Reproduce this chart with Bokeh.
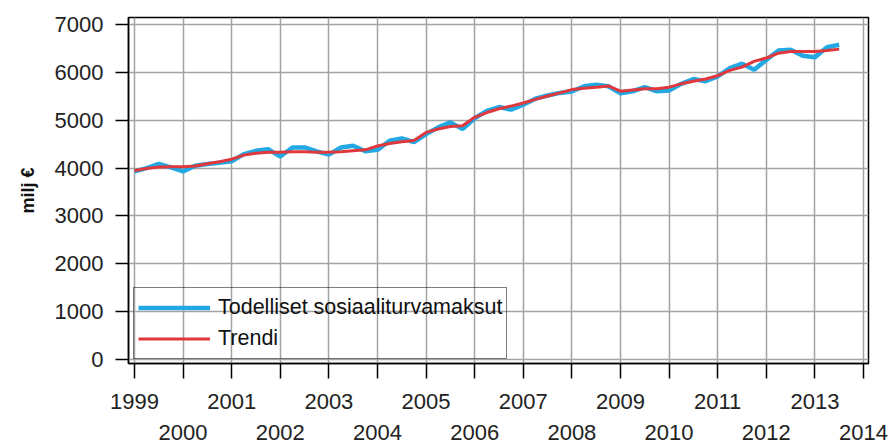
from bokeh.plotting import figure
from bokeh.models import FixedTicker, LinearAxis, Range1d, Legend, LegendItem
from bokeh.embed import file_html
from bokeh.resources import INLINE

# ---- data (quarterly, 1999Q1 .. 2013Q3) ----
periods = [f"{y}Q{q}" for y in range(1999, 2014) for q in range(1, 5)][:59]
actual = [3930, 4000, 4085, 4015, 3930, 4050, 4085, 4110, 4140, 4290, 4360, 4395,
          4240, 4430, 4430, 4350, 4280, 4430, 4465, 4350, 4380, 4570, 4620, 4540,
          4710, 4850, 4955, 4815, 5040, 5195, 5275, 5220, 5325, 5450, 5515, 5570,
          5600, 5710, 5740, 5710, 5560, 5605, 5690, 5605, 5620, 5760, 5860, 5815,
          5915, 6090, 6180, 6055, 6260, 6455, 6470, 6345, 6315, 6525, 6575]
trend = [3950, 3990, 4020, 4025, 4025, 4045, 4090, 4130, 4185, 4270, 4310, 4330,
         4330, 4340, 4340, 4330, 4330, 4340, 4360, 4380, 4460, 4515, 4550, 4575,
         4745, 4815, 4870, 4885, 5060, 5160, 5240, 5295, 5360, 5435, 5505, 5570,
         5640, 5670, 5690, 5715, 5605, 5630, 5655, 5655, 5690, 5760, 5815, 5860,
         5930, 6040, 6110, 6230, 6300, 6400, 6435, 6435, 6435, 6455, 6485]
year_ticks = list(range(1999, 2015))
y_ticks = list(range(0, 7001, 1000))
series_names = ["Todelliset sosiaaliturvamaksut", "Trendi"]
y_label = "milj €"

t = [int(p[:4]) + (int(p[-1]) - 1) / 4 for p in periods]

FONT = "Liberation Sans"

p = figure(width=892, height=446, output_backend="svg", toolbar_location=None,
           x_range=Range1d(1998.877, 2014.103), y_range=Range1d(-84, 7146),
           min_border_left=128, min_border_right=24, min_border_top=17,
           min_border_bottom=83)
p.background_fill_color = "white"
p.border_fill_color = "white"
p.outline_line_color = "black"
p.outline_line_width = 1.5

# grids
p.xgrid.ticker = FixedTicker(ticks=year_ticks)
p.ygrid.ticker = FixedTicker(ticks=y_ticks)
for g in (p.xgrid, p.ygrid):
    g.grid_line_color = "#a3a3a3"
    g.grid_line_width = 1.5

# y axis
ya = p.yaxis[0]
ya.ticker = FixedTicker(ticks=y_ticks)
ya.axis_label = y_label
ya.axis_label_text_font = FONT
ya.axis_label_text_font_style = "bold"
ya.axis_label_text_font_size = "18px"
ya.axis_label_text_color = "#111111"
ya.axis_label_standoff = 14
ya.major_label_text_font = FONT
ya.major_label_text_font_size = "22px"
ya.major_label_text_color = "#222222"
ya.major_label_standoff = 12
ya.major_tick_out = 13
ya.major_tick_in = 0
ya.minor_tick_out = 0
ya.minor_tick_in = 0
ya.major_tick_line_width = 1.5
ya.axis_line_width = 1.5
ya.axis_line_color = "black"
ya.major_tick_line_color = "black"

# x axis row 1 (odd years, with ticks)
xa = p.xaxis[0]
xa.ticker = FixedTicker(ticks=year_ticks)
xa.major_label_overrides = {y: "" for y in year_ticks if y % 2 == 0}
xa.major_label_text_font = FONT
xa.major_label_text_font_size = "22px"
xa.major_label_text_color = "#222222"
xa.major_label_standoff = 15
xa.major_tick_out = 15
xa.major_tick_in = 0
xa.minor_tick_out = 0
xa.minor_tick_in = 0
xa.major_tick_line_width = 1.5
xa.axis_line_width = 1.5
xa.axis_line_color = "black"
xa.major_tick_line_color = "black"

# x axis row 2 (even years, labels only)
xa2 = LinearAxis(ticker=FixedTicker(ticks=year_ticks))
xa2.major_label_overrides = {y: "" for y in year_ticks if y % 2 == 1}
xa2.major_label_text_font = FONT
xa2.major_label_text_font_size = "22px"
xa2.major_label_text_color = "#222222"
xa2.major_label_standoff = 13
xa2.major_tick_out = 0
xa2.major_tick_in = 0
xa2.minor_tick_out = 0
xa2.minor_tick_in = 0
xa2.axis_line_color = None
xa2.major_tick_line_color = None
p.add_layout(xa2, "below")

# lines
r1 = p.line(t, actual, line_color="#22a8e2", line_width=4.5)
r2 = p.line(t, trend, line_color="#e0383d", line_width=3)

legend = Legend(items=[LegendItem(label=series_names[0], renderers=[r1]),
                       LegendItem(label=series_names[1], renderers=[r2])],
                location=(5, 4))
legend.label_text_font = FONT
legend.label_text_font_size = "21.5px"
legend.label_text_color = "#111111"
legend.glyph_width = 72
legend.glyph_height = 31
legend.label_height = 31
legend.label_standoff = 8
legend.padding = 4
legend.spacing = 0
legend.margin = 0
legend.border_line_color = "black"
legend.border_line_width = 1.5
legend.background_fill_alpha = 0
p.add_layout(legend, "center")

open("out.html", "w").write(file_html(p, INLINE))
